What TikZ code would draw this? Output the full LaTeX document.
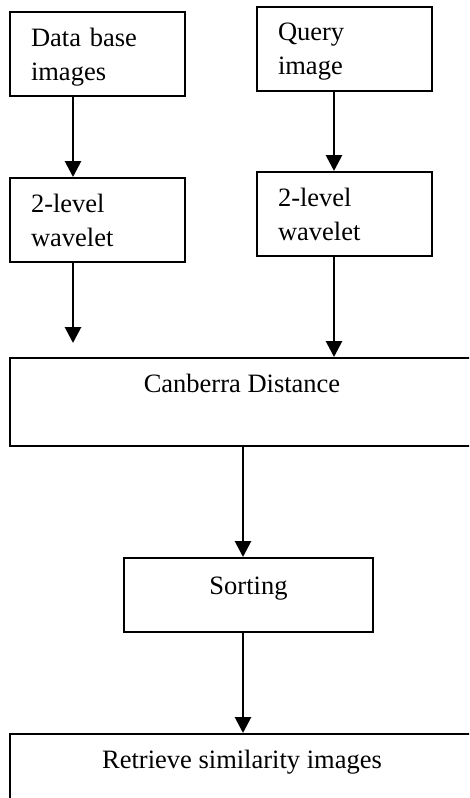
\documentclass[tikz,border=0pt]{standalone}
\usepackage{fontspec}
\setmainfont{Liberation Serif}
\usetikzlibrary{arrows.meta}

\begin{document}
\begin{tikzpicture}[x=1pt, y=-1pt,
        every node/.style={font=\fontsize{26.5}{34}\selectfont},
        box/.style={draw, line width=2pt},
        stage/.style={box, text width=133pt, inner xsep=21pt, align=left, minimum height=84pt, text depth=34pt},
        arr/.style={line width=2.8pt, -{Triangle[width=16pt, length=16pt]}}]
    \useasboundingbox (0, 0) rectangle (469, 798);
    \clip (0, 0) rectangle (469, 798);

    \node[stage] (db) at (97.5, 54) {Data base\\images};
    \node[stage] (query) at (344.5, 49) {Query\\image};
    \node[stage] (wav1) at (97.5, 220) {2-level\\wavelet};
    \node[stage] (wav2) at (344.5, 214) {2-level\\wavelet};

    \node[box, minimum width=464pt, minimum height=88pt] (canb) at (242, 402) {};
    \node[box, minimum width=249pt, minimum height=74pt] (sort) at (248.5, 595) {};
    \node[box, minimum width=464pt, minimum height=78pt] (retr) at (242, 773) {};

    \node[anchor=base] (canbtxt) at ([yshift=-35pt]canb.north) {Canberra Distance};
    \node[anchor=base] (sorttxt) at ([yshift=-37pt]sort.north) {Sorting};
    \node[anchor=base] (retrtxt) at ([yshift=-35pt]retr.north) {Retrieve similarity images};

    \coordinate (dbend) at (73, 343);

    \draw[arr] ([xshift=-24.5pt]db.south) -- ([xshift=-24.5pt]wav1.north);
    \draw[arr] ([xshift=-24.5pt]wav1.south) -- (dbend);
    \draw[arr] ([xshift=-10.5pt]query.south) -- ([xshift=-10.5pt]wav2.north);
    \draw[arr] ([xshift=-10.5pt]wav2.south) -- ([xshift=-10.5pt]wav2.south |- canb.north);
    \draw[arr] ([xshift=-5.5pt]sort.north |- canb.south) -- ([xshift=-5.5pt]sort.north);
    \draw[arr] ([xshift=-5.5pt]sort.south) -- ([xshift=-5.5pt]sort.south |- retr.north);
\end{tikzpicture}
\end{document}
